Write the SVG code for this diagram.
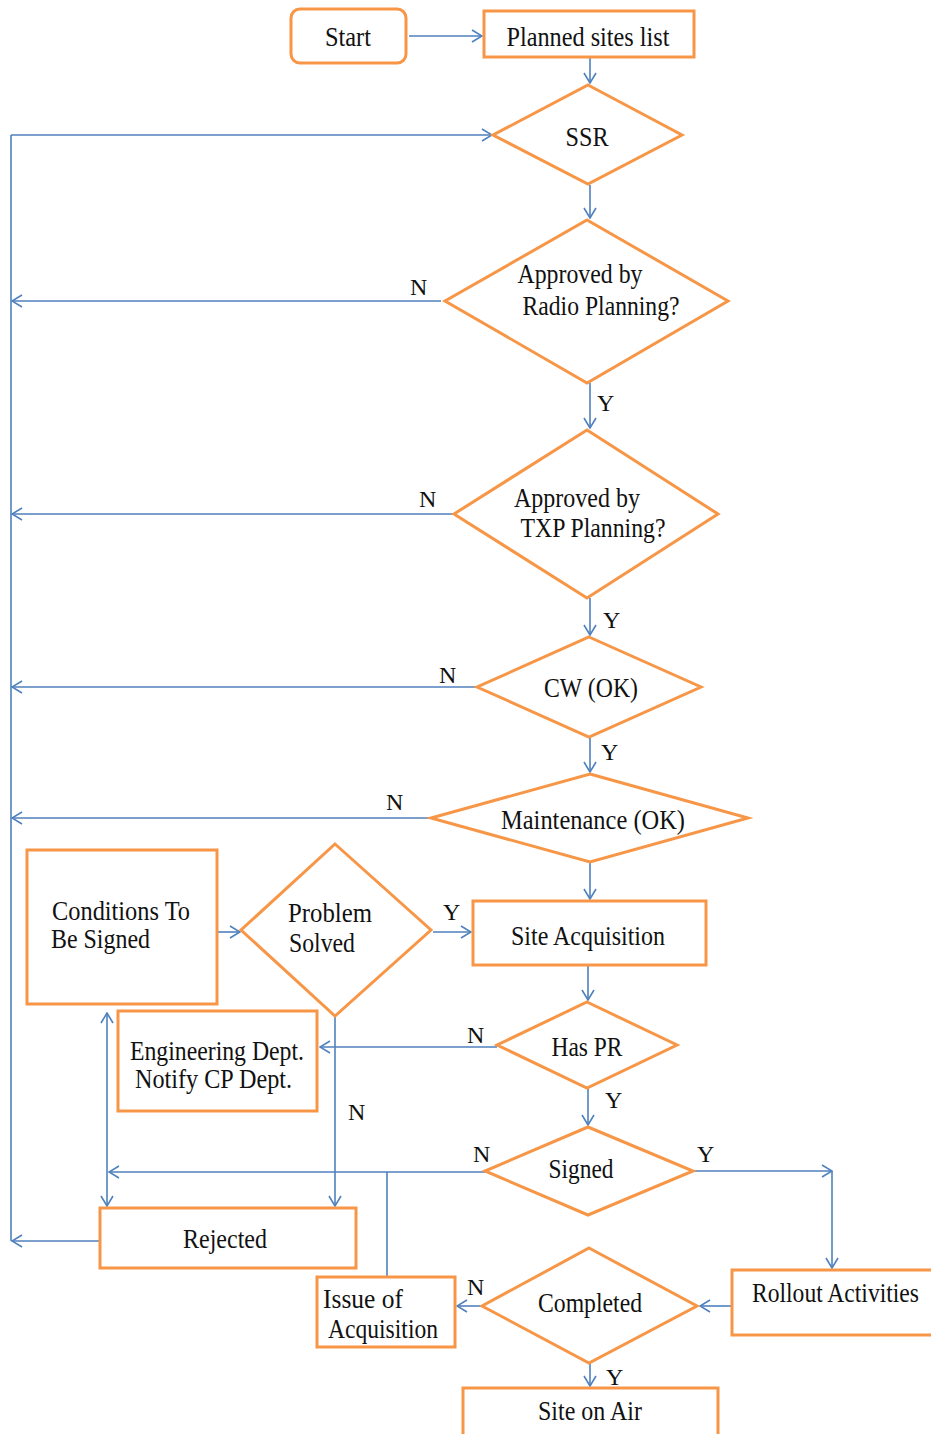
<svg xmlns="http://www.w3.org/2000/svg" width="931" height="1434" viewBox="0 0 931 1434">
  <defs>
    <style>
      .box { fill: #ffffff; stroke: #F79646; stroke-width: 3; }
      .link { fill: none; stroke: #4F81BD; stroke-width: 1.6; }
      .arr { marker-end: url(#open); }
      text { font-family: "Liberation Serif", "Times New Roman", serif; font-size: 27px; fill: #111111; }
      .lbl { font-size: 24px; }
    </style>
    <marker id="open" viewBox="0 0 12 14" refX="11" refY="7" markerWidth="12" markerHeight="14" markerUnits="userSpaceOnUse" orient="auto">
      <path d="M1,1 L11,7 L1,13" fill="none" stroke="#4F81BD" stroke-width="1.6"/>
    </marker>
  </defs>
  <rect width="931" height="1434" fill="#ffffff"/>

  <!-- connectors -->
  <g id="connectors">
    <line class="link arr" x1="409" y1="36" x2="482" y2="36"/>
    <line class="link arr" x1="590" y1="58" x2="590" y2="83"/>
    <!-- return rail on the left -->
    <line class="link" x1="11" y1="135" x2="11" y2="1241"/>
    <line class="link arr" x1="11" y1="135" x2="492" y2="135"/>
    <line class="link arr" x1="590" y1="185" x2="590" y2="218"/>
    <line class="link arr" x1="441" y1="301" x2="12" y2="301"/>
    <line class="link arr" x1="590" y1="383" x2="590" y2="428"/>
    <line class="link arr" x1="454" y1="514" x2="12" y2="514"/>
    <line class="link arr" x1="590" y1="598" x2="590" y2="635"/>
    <line class="link arr" x1="477" y1="687" x2="12" y2="687"/>
    <line class="link arr" x1="590" y1="737" x2="590" y2="772"/>
    <line class="link arr" x1="431" y1="818" x2="12" y2="818"/>
    <line class="link arr" x1="590" y1="862" x2="590" y2="899"/>
    <line class="link arr" x1="218" y1="932" x2="240" y2="932"/>
    <line class="link arr" x1="433" y1="932" x2="471" y2="932"/>
    <line class="link arr" x1="588" y1="966" x2="588" y2="1000"/>
    <line class="link arr" x1="497" y1="1047" x2="320" y2="1047"/>
    <line class="link arr" x1="335" y1="1016" x2="335" y2="1206"/>
    <line class="link arr" x1="588" y1="1088" x2="588" y2="1125"/>
    <!-- Signed: N branch -->
    <line class="link arr" x1="485" y1="1172" x2="109" y2="1172"/>
    <line class="link" x1="387" y1="1172" x2="387" y2="1276"/>
    <line class="link arr" x1="107" y1="1150" x2="107" y2="1013"/>
    <line class="link arr" x1="107" y1="1150" x2="107" y2="1206"/>
    <line class="link arr" x1="100" y1="1241" x2="12" y2="1241"/>
    <!-- Signed: Y branch -->
    <line class="link arr" x1="693" y1="1171" x2="832" y2="1171"/>
    <line class="link arr" x1="832" y1="1171" x2="832" y2="1268"/>
    <line class="link arr" x1="732" y1="1306" x2="700" y2="1306"/>
    <line class="link arr" x1="482" y1="1306" x2="457" y2="1306"/>
    <line class="link arr" x1="590" y1="1363" x2="590" y2="1386"/>
  </g>

  <!-- nodes -->
  <g id="start">
    <rect class="box" x="291" y="9" width="115" height="54" rx="9"/>
    <text x="348" y="46" text-anchor="middle" textLength="46" lengthAdjust="spacingAndGlyphs">Start</text>
  </g>
  <g id="planned">
    <rect class="box" x="484" y="11" width="210" height="46"/>
    <text x="588" y="46" text-anchor="middle" textLength="163" lengthAdjust="spacingAndGlyphs">Planned sites list</text>
  </g>
  <g id="ssr">
    <polygon class="box" points="588,85 682,135 588,184 493,135"/>
    <text x="587" y="146" text-anchor="middle" textLength="43" lengthAdjust="spacingAndGlyphs">SSR</text>
  </g>
  <g id="radio">
    <polygon class="box" points="587,220 728,301 587,383 445,301"/>
    <text x="580" y="283" text-anchor="middle" textLength="125" lengthAdjust="spacingAndGlyphs">Approved by</text>
    <text x="601" y="315" text-anchor="middle" textLength="157" lengthAdjust="spacingAndGlyphs">Radio Planning?</text>
  </g>
  <g id="txp">
    <polygon class="box" points="587,430 718,514 587,598 454,514"/>
    <text x="577" y="507" text-anchor="middle" textLength="126" lengthAdjust="spacingAndGlyphs">Approved by</text>
    <text x="593" y="537" text-anchor="middle" textLength="145" lengthAdjust="spacingAndGlyphs">TXP Planning?</text>
  </g>
  <g id="cw">
    <polygon class="box" points="589,637 701,687 589,737 477,687"/>
    <text x="591" y="697" text-anchor="middle" textLength="94" lengthAdjust="spacingAndGlyphs">CW (OK)</text>
  </g>
  <g id="maintenance">
    <polygon class="box" points="590,774 748,818 590,862 431,818"/>
    <text x="593" y="829" text-anchor="middle" textLength="184" lengthAdjust="spacingAndGlyphs">Maintenance (OK)</text>
  </g>
  <g id="site-acquisition">
    <rect class="box" x="473" y="901" width="233" height="64"/>
    <text x="588" y="945" text-anchor="middle" textLength="154" lengthAdjust="spacingAndGlyphs">Site Acquisition</text>
  </g>
  <g id="conditions">
    <rect class="box" x="27" y="850" width="190" height="154"/>
    <text x="52" y="920" textLength="138" lengthAdjust="spacingAndGlyphs">Conditions To</text>
    <text x="51" y="948" textLength="99" lengthAdjust="spacingAndGlyphs">Be Signed</text>
  </g>
  <g id="problem">
    <polygon class="box" points="335,844 431,930 335,1016 241,930"/>
    <text x="288" y="922" textLength="84" lengthAdjust="spacingAndGlyphs">Problem</text>
    <text x="289" y="952" textLength="66" lengthAdjust="spacingAndGlyphs">Solved</text>
  </g>
  <g id="engineering">
    <rect class="box" x="118" y="1011" width="199" height="100"/>
    <text x="130" y="1060" textLength="174" lengthAdjust="spacingAndGlyphs">Engineering Dept.</text>
    <text x="135" y="1088" textLength="157" lengthAdjust="spacingAndGlyphs">Notify CP Dept.</text>
  </g>
  <g id="has-pr">
    <polygon class="box" points="587,1002 677,1045 587,1088 497,1045"/>
    <text x="587" y="1056" text-anchor="middle" textLength="71" lengthAdjust="spacingAndGlyphs">Has PR</text>
  </g>
  <g id="signed">
    <polygon class="box" points="588,1127 693,1171 588,1215 485,1171"/>
    <text x="581" y="1178" text-anchor="middle" textLength="65" lengthAdjust="spacingAndGlyphs">Signed</text>
  </g>
  <g id="rejected">
    <rect class="box" x="100" y="1208" width="256" height="60"/>
    <text x="225" y="1248" text-anchor="middle" textLength="84" lengthAdjust="spacingAndGlyphs">Rejected</text>
  </g>
  <g id="rollout">
    <rect class="box" x="732" y="1270" width="210" height="65"/>
    <text x="752" y="1302" textLength="167" lengthAdjust="spacingAndGlyphs">Rollout Activities</text>
  </g>
  <g id="completed">
    <polygon class="box" points="589,1248 697,1306 589,1363 482,1306"/>
    <text x="590" y="1312" text-anchor="middle" textLength="104" lengthAdjust="spacingAndGlyphs">Completed</text>
  </g>
  <g id="issue">
    <rect class="box" x="317" y="1277" width="138" height="70"/>
    <text x="323" y="1308" textLength="80" lengthAdjust="spacingAndGlyphs">Issue of</text>
    <text x="328" y="1338" textLength="110" lengthAdjust="spacingAndGlyphs">Acquisition</text>
  </g>
  <g id="site-on-air">
    <rect class="box" x="463" y="1388" width="255" height="60"/>
    <text x="590" y="1420" text-anchor="middle" textLength="104" lengthAdjust="spacingAndGlyphs">Site on Air</text>
  </g>

  <!-- branch labels -->
  <g id="labels" class="lbl">
    <text class="lbl" x="410" y="295">N</text>
    <text class="lbl" x="597" y="411">Y</text>
    <text class="lbl" x="419" y="507">N</text>
    <text class="lbl" x="603" y="628">Y</text>
    <text class="lbl" x="439" y="683">N</text>
    <text class="lbl" x="601" y="760">Y</text>
    <text class="lbl" x="386" y="810">N</text>
    <text class="lbl" x="443" y="920">Y</text>
    <text class="lbl" x="467" y="1043">N</text>
    <text class="lbl" x="605" y="1108">Y</text>
    <text class="lbl" x="348" y="1120">N</text>
    <text class="lbl" x="473" y="1162">N</text>
    <text class="lbl" x="697" y="1162">Y</text>
    <text class="lbl" x="467" y="1295">N</text>
    <text class="lbl" x="606" y="1385">Y</text>
  </g>
</svg>
